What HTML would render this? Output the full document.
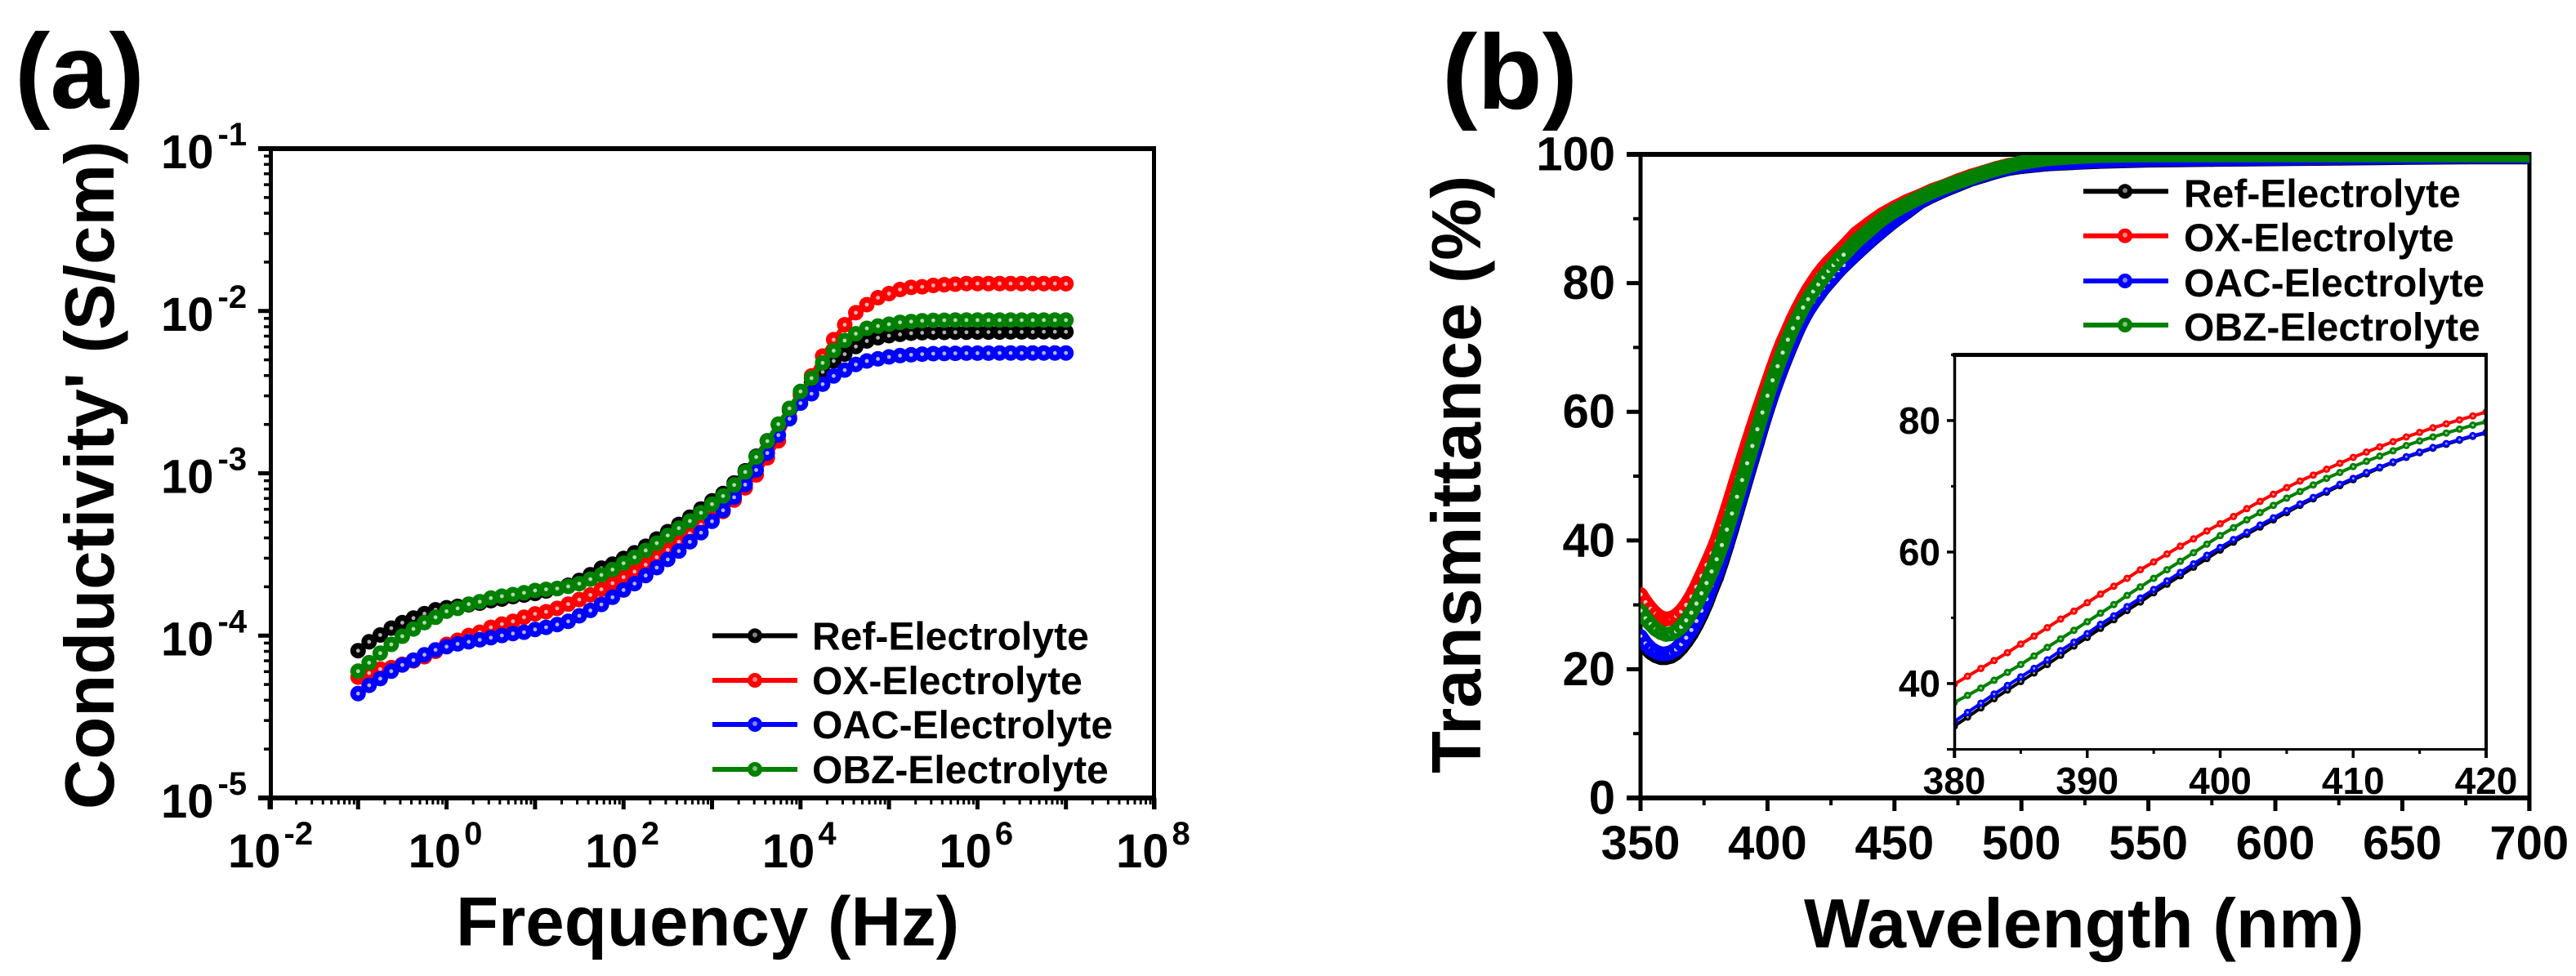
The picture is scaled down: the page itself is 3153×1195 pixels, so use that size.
<!DOCTYPE html>
<html lang="en">
<head>
<meta charset="utf-8">
<title>Conductivity and transmittance of electrolytes</title>
<style>
html,body{margin:0;padding:0;background:#fff;}
svg{display:block;font-family:"Liberation Sans",Arial,sans-serif;font-weight:bold;fill:#000;}
</style>
</head>
<body>
<svg id="fig" xmlns="http://www.w3.org/2000/svg" width="3153" height="1195" viewBox="0 0 3153 1195">
<rect width="3153" height="1195" fill="#fff"/>
<defs>
<clipPath id="clipB"><rect x="2008" y="190" width="1088" height="788"/></clipPath>
<clipPath id="clipI"><rect x="2392" y="434" width="651" height="484"/></clipPath>
</defs>
<text x="18" y="132" font-size="130">(a)</text>
<text x="1765" y="133" font-size="130">(b)</text>
<text x="558" y="1157.5" font-size="85.3">Frequency (Hz)</text>
<text transform="translate(139,991) rotate(-90)" font-size="85">Conductivity' (S/cm)</text>
<text x="2208" y="1160" font-size="85.5">Wavelength (nm)</text>
<text transform="translate(1812,947) rotate(-90)" font-size="85">Transmittance (%)</text>
<g id="layer"></g>
</svg>
<script>
// ---------- Panel (a): conductivity, log10 values, 8 points per decade ----------
const freqExp=[-1,-0.875,-0.75,-0.625,-0.5,-0.375,-0.25,-0.125,0,0.125,0.25,0.375,0.5,0.625,0.75,0.875,1,1.125,1.25,1.375,1.5,1.625,1.75,1.875,2,2.125,2.25,2.375,2.5,2.625,2.75,2.875,3,3.125,3.25,3.375,3.5,3.625,3.75,3.875,4,4.125,4.25,4.375,4.5,4.625,4.75,4.875,5,5.125,5.25,5.375,5.5,5.625,5.75,5.875,6,6.125,6.25,6.375,6.5,6.625,6.75,6.875,7];
const logRef=[-4.093,-4.038,-3.996,-3.954,-3.920,-3.892,-3.865,-3.841,-3.828,-3.820,-3.810,-3.800,-3.785,-3.775,-3.760,-3.750,-3.740,-3.725,-3.710,-3.690,-3.660,-3.625,-3.584,-3.560,-3.525,-3.490,-3.450,-3.405,-3.360,-3.315,-3.270,-3.220,-3.170,-3.125,-3.060,-2.985,-2.895,-2.800,-2.700,-2.610,-2.510,-2.440,-2.375,-2.308,-2.266,-2.219,-2.185,-2.165,-2.152,-2.144,-2.137,-2.134,-2.132,-2.132,-2.131,-2.131,-2.130,-2.130,-2.130,-2.129,-2.129,-2.129,-2.128,-2.128,-2.128];
const logOX=[-4.256,-4.230,-4.206,-4.197,-4.177,-4.155,-4.130,-4.097,-4.054,-4.029,-3.999,-3.979,-3.949,-3.929,-3.912,-3.887,-3.866,-3.853,-3.832,-3.806,-3.778,-3.749,-3.715,-3.677,-3.640,-3.606,-3.563,-3.517,-3.472,-3.422,-3.371,-3.316,-3.280,-3.235,-3.165,-3.090,-3.010,-2.905,-2.800,-2.655,-2.520,-2.400,-2.278,-2.177,-2.085,-2.011,-1.961,-1.918,-1.893,-1.868,-1.855,-1.851,-1.843,-1.838,-1.835,-1.831,-1.831,-1.831,-1.831,-1.831,-1.831,-1.831,-1.831,-1.831,-1.832];
const logOAC=[-4.357,-4.306,-4.265,-4.219,-4.181,-4.151,-4.118,-4.088,-4.068,-4.051,-4.038,-4.026,-4.013,-3.999,-3.987,-3.979,-3.962,-3.949,-3.932,-3.912,-3.878,-3.845,-3.808,-3.764,-3.719,-3.680,-3.630,-3.581,-3.531,-3.479,-3.422,-3.366,-3.296,-3.228,-3.148,-3.070,-2.980,-2.875,-2.765,-2.664,-2.568,-2.510,-2.451,-2.400,-2.364,-2.330,-2.308,-2.295,-2.283,-2.275,-2.270,-2.266,-2.263,-2.262,-2.261,-2.260,-2.260,-2.260,-2.259,-2.259,-2.259,-2.259,-2.259,-2.259,-2.259];
const logOBZ=[-4.219,-4.167,-4.108,-4.054,-4.004,-3.959,-3.920,-3.887,-3.850,-3.832,-3.806,-3.791,-3.769,-3.757,-3.747,-3.736,-3.722,-3.715,-3.710,-3.697,-3.680,-3.652,-3.626,-3.593,-3.554,-3.517,-3.475,-3.430,-3.383,-3.338,-3.294,-3.243,-3.190,-3.140,-3.072,-2.992,-2.900,-2.802,-2.697,-2.600,-2.496,-2.414,-2.320,-2.245,-2.182,-2.140,-2.107,-2.093,-2.082,-2.070,-2.065,-2.060,-2.058,-2.057,-2.056,-2.056,-2.056,-2.056,-2.056,-2.056,-2.056,-2.056,-2.056,-2.056,-2.056];
const aXTickExp=[-2,0,2,4,6,8];
const aYTickExp=[-1,-2,-3,-4,-5];

// ---------- Panel (b): transmittance ----------
const nmMain=[350,352,354,356,358,360,362,364,366,368,370,372,374,376,378,380,382,384,386,388,390,392,394,396,398,400,402,404,406,408,410,412,414,416,418,420,422,424,426,428,430,435,440,445,450,455,460,465,470,475,480,485,490,495,500,510,520,530,550,575,600,625,650,675,700];
const tRef=[24.3,23.4,22.6,22.1,21.8,21.8,22.0,22.5,23.3,24.3,25.5,26.9,28.5,30.3,32.4,34.3,36.7,39.2,41.8,44.5,47.2,49.9,52.6,55.2,57.9,60.4,62.8,65.0,67.1,69.1,71.0,72.8,74.4,75.8,77.0,78.1,79.2,80.1,81.0,81.9,82.7,84.6,86.4,88.1,89.7,91.1,92.6,93.6,94.5,95.3,96.1,96.7,97.3,97.8,98.1,98.5,98.7,98.9,99.1,99.2,99.3,99.4,99.5,99.6,99.6];
const tOX=[31.6,30.4,29.4,28.6,28.0,27.8,27.9,28.3,29.0,30.0,31.3,32.8,34.5,36.2,38.0,39.9,42.3,44.7,47.2,49.8,52.3,54.8,57.3,59.7,62.0,64.3,66.6,68.8,70.8,72.6,74.4,76.0,77.5,78.9,80.1,81.3,82.3,83.2,84.0,84.8,85.6,87.7,89.2,90.6,91.7,92.7,93.5,94.4,95.1,95.9,96.6,97.2,97.8,98.3,98.6,99.2,99.5,99.6,99.7,99.7,99.8,99.8,99.8,99.8,99.8];
const tOAC=[25.1,24.0,23.2,22.7,22.4,22.4,22.6,23.1,23.9,24.9,26.1,27.5,29.1,30.9,33.0,34.9,37.3,39.7,42.3,45.0,47.6,50.3,53.0,55.6,58.2,60.7,63.0,65.2,67.3,69.3,71.2,72.9,74.5,75.9,77.1,78.2,79.3,80.2,81.1,82.0,82.8,84.7,86.5,88.2,89.8,91.2,92.7,93.7,94.6,95.4,96.2,96.8,97.4,97.9,98.2,98.6,98.8,99.0,99.2,99.3,99.4,99.5,99.6,99.7,99.7];
const tOBZ=[29.1,27.9,27.0,26.2,25.7,25.4,25.5,25.9,26.6,27.6,28.8,30.2,31.8,33.4,35.2,37.1,39.3,41.7,44.2,46.8,49.4,52.0,54.7,57.3,59.9,62.5,64.9,67.1,69.2,71.2,73.0,74.6,76.2,77.5,78.7,79.8,80.9,81.9,82.8,83.7,84.4,86.5,88.2,89.9,91.2,92.3,93.3,94.2,95.0,95.7,96.4,97.1,97.7,98.2,98.7,99.3,99.6,99.8,99.9,99.9,99.9,99.9,99.9,99.9,99.9];
const bXTicks=[350,400,450,500,550,600,650,700];
const bYTicks=[0,20,40,60,80,100];

// ---------- Inset of panel (b) ----------
const nmInset=[380,381,382,383,384,385,386,387,388,389,390,391,392,393,394,395,396,397,398,399,400,401,402,403,404,405,406,407,408,409,410,411,412,413,414,415,416,417,418,419,420];
const insetRef=[33.5,34.9,36.3,37.7,39.0,40.3,41.6,42.9,44.3,45.7,47.0,48.4,49.7,51.1,52.4,53.8,55.1,56.4,57.7,59.0,60.3,61.5,62.7,63.8,64.9,66.0,67.1,68.1,69.1,70.1,71.0,71.9,72.8,73.6,74.4,75.1,75.8,76.4,77.0,77.6,78.1];
const insetOX=[39.9,41.1,42.3,43.5,44.7,46.0,47.2,48.5,49.8,51.0,52.3,53.6,54.8,56.0,57.3,58.5,59.7,60.9,62.0,63.2,64.3,65.4,66.6,67.7,68.8,69.8,70.8,71.7,72.6,73.5,74.4,75.2,76.0,76.8,77.5,78.2,78.9,79.5,80.1,80.7,81.3];
const insetOAC=[34.2,35.6,37.0,38.4,39.7,41.0,42.3,43.6,45.0,46.3,47.6,49.0,50.3,51.7,53.0,54.3,55.6,56.9,58.2,59.5,60.7,61.9,63.0,64.1,65.2,66.3,67.3,68.3,69.3,70.3,71.2,72.1,72.9,73.7,74.5,75.2,75.9,76.5,77.1,77.7,78.2];
const insetOBZ=[37.1,38.2,39.3,40.5,41.7,42.9,44.2,45.5,46.8,48.1,49.4,50.7,52.0,53.4,54.7,56.0,57.3,58.6,59.9,61.2,62.5,63.7,64.9,66.0,67.1,68.2,69.2,70.2,71.2,72.1,73.0,73.8,74.6,75.4,76.2,76.9,77.5,78.1,78.7,79.3,79.8];
const insetXTicks=[380,390,400,410,420];
const insetYTicks=[40,60,80];

const seriesNames=['Ref-Electrolyte','OX-Electrolyte','OAC-Electrolyte','OBZ-Electrolyte'];
const seriesKeys=['ref','ox','oac','obz'];
const seriesColors=['#000000','#ff0000','#0000ff','#008000'];

const NS='http://www.w3.org/2000/svg';
const layer=document.getElementById('layer');
function mk(tag,attrs,parent,name,interactable){
  const el=document.createElementNS(NS,tag);
  for(const k in attrs){el.setAttribute(k,attrs[k]);}
  
  
  (parent||layer).appendChild(el);
  return el;
}
function line(x1,y1,x2,y2,w,name,parent,color){
  return mk('line',{x1:x1,y1:y1,x2:x2,y2:y2,stroke:color||'#000','stroke-width':w},parent,name);
}
function powerLabel(x,y,base,exp,parent,name,dx){
  const t=mk('text',{x:x,y:y,'font-size':58},parent,name);
  t.appendChild(document.createTextNode(base));
  const s=document.createElementNS(NS,'tspan');
  s.setAttribute('font-size','40');
  s.setAttribute('dy','-28');
  s.setAttribute('dx',dx);
  s.textContent=exp;
  t.appendChild(s);
}

// axis functions
const ax=v=>330+(v+2)*108.3;
const ay=v=>182+(-1-v)*198.75;
const bx=v=>2008+(v-350)*3.108;
const by=v=>977-v*7.88;
const ix=v=>2392+(v-380)*16.275;
const iy=v=>917.4-(v-30)*8.05;

// ---------- panel a axes ----------
const gA=mk('g',{},layer,'panel-a-axes');
line(316,182,1415,182,6,'panel-a-top-axis',gA);
line(316,977,1415,977,6,'panel-a-bottom-axis',gA);
line(331.5,179,331.5,991,5,'panel-a-left-axis',gA);
line(1412.5,179,1412.5,991,5,'panel-a-right-axis',gA);
aXTickExp.forEach(function(e){
  line(ax(e),977,ax(e),991,5,'panel-a-x-major-tick',gA);
  powerLabel(ax(e)-(e<0?51:47),1062,'10',String(e),gA,'panel-a-x-tick-label',4);
  if(e<8){
    for(let d=0;d<2;d++){
      for(let k=2;k<10;k++){
        const p=ax(e+d+Math.log10(k));
        line(p,977,p,985,3,'panel-a-x-minor-tick',gA);
      }
      if(d===0){line(ax(e+1),977,ax(e+1),991,5,'panel-a-x-mid-tick',gA);}
    }
  }
});
aYTickExp.forEach(function(e){
  line(316,ay(e),332,ay(e),5,'panel-a-y-major-tick',gA);
  powerLabel(197,ay(e)+24,'10',String(e),gA,'panel-a-y-tick-label',5);
  if(e>-5){
    for(let k=2;k<10;k++){
      const p=ay(e-1+Math.log10(k));
      line(323,p,332,p,3.5,'panel-a-y-minor-tick',gA);
    }
  }
});

// series drawing
function drawSeries(parent,xs,ys,sx,sy,color,key,panel,lineW,r,dotR,dotTest,dotOp){
  const g=mk('g',{},parent,panel+'-series-'+key);
  const pts=xs.map(function(x,i){return sx(x).toFixed(1)+','+sy(ys[i]).toFixed(1);}).join(' ');
  mk('polyline',{points:pts,fill:'none',stroke:color,'stroke-width':lineW,'stroke-linejoin':'round','stroke-linecap':'round'},g,panel+'-line-'+key);
  xs.forEach(function(x,i){
    mk('circle',{cx:sx(x).toFixed(1),cy:sy(ys[i]).toFixed(1),r:r,fill:color},g,panel+'-point-'+key);
    if(dotTest(x)){
      mk('circle',{cx:sx(x).toFixed(1),cy:sy(ys[i]).toFixed(1),r:dotR,fill:'#fff','fill-opacity':dotOp},g,panel+'-point-highlight-'+key);
    }
  });
}
const aSeries=[logRef,logOX,logOAC,logOBZ];
aSeries.forEach(function(ys,s){
  drawSeries(layer,freqExp,ys,ax,ay,seriesColors[s],seriesKeys[s],'panel-a',6,9.5,2.4,function(){return true;},0.7);
});

// legend helper
function legend(name,x1,x2,xm,xt,rows,gapBase){
  const g=mk('g',{},layer,name);
  seriesNames.forEach(function(label,s){
    const y=rows[s];
    line(x1,y,x2,y,6,name+'-line-'+seriesKeys[s],g,seriesColors[s]);
    mk('circle',{cx:xm,cy:y,r:9,fill:seriesColors[s]},g,name+'-marker-'+seriesKeys[s]);
    mk('circle',{cx:xm,cy:y-1,r:3,fill:'#fff','fill-opacity':0.5},g,name+'-marker-highlight-'+seriesKeys[s]);
    const t=mk('text',{x:xt,y:y+gapBase,'font-size':48},g,name+'-entry-'+seriesKeys[s]);
    t.textContent=label;
  });
}
legend('panel-a-legend',872,976,924,994,[778.4,833,887,942],17);

// ---------- panel b axes ----------
const gB=mk('g',{},layer,'panel-b-axes');
line(1991,189,3098,189,6,'panel-b-top-axis',gB);
line(1991,977,3098,977,6,'panel-b-bottom-axis',gB);
line(2008,186,2008,993,5,'panel-b-left-axis',gB);
line(3096,186,3096,993,5,'panel-b-right-axis',gB);
bXTicks.forEach(function(v,i){
  line(bx(v),977,bx(v),993,5,'panel-b-x-major-tick',gB);
  const t=mk('text',{x:bx(v),y:1052,'font-size':58,'text-anchor':'middle'},gB,'panel-b-x-tick-label');
  t.textContent=String(v);
  if(i<bXTicks.length-1){
    const m=bx(v+25);
    line(m,977,m,986,4,'panel-b-x-minor-tick',gB);
  }
});
bYTicks.forEach(function(v,i){
  line(1991,by(v),2008,by(v),5,'panel-b-y-major-tick',gB);
  const t=mk('text',{x:1977,y:by(v)+19.5,'font-size':58,'text-anchor':'end'},gB,'panel-b-y-tick-label');
  t.textContent=String(v);
  if(i<bYTicks.length-1){
    line(1999,by(v+10),2008,by(v+10),4,'panel-b-y-minor-tick',gB);
  }
});
const gBData=mk('g',{'clip-path':'url(#clipB)'},layer,'panel-b-data');
const bSeries=[tRef,tOX,tOAC,tOBZ];
bSeries.forEach(function(ys,s){
  drawSeries(gBData,nmMain,ys,bx,by,seriesColors[s],seriesKeys[s],'panel-b',18,9,2.6,function(x){return x<432;},0.78);
});
legend('panel-b-legend',2550,2654,2601,2673,[234.3,288.7,344,398],19);

// ---------- inset ----------
const gI=mk('g',{},layer,'inset');
mk('rect',{x:2392,y:434,width:651,height:484,fill:'#fff'},gI,'inset-background');
const gIData=mk('g',{'clip-path':'url(#clipI)'},gI,'inset-data');
const iSeries=[insetRef,insetOX,insetOAC,insetOBZ];
iSeries.forEach(function(ys,s){
  drawSeries(gIData,nmInset,ys,ix,iy,seriesColors[s],seriesKeys[s],'inset',4,4.5,1.5,function(){return true;},0.6);
});
line(2390,434.5,3045,434.5,5,'inset-top-axis',gI);
line(2390,917.5,3045,917.5,3,'inset-bottom-axis',gI);
line(2392.5,432,2392.5,928,3.5,'inset-left-axis',gI);
line(3043,432,3043,928,4,'inset-right-axis',gI);
insetXTicks.forEach(function(v,i){
  line(ix(v),917,ix(v),928,3.5,'inset-x-major-tick',gI);
  const t=mk('text',{x:ix(v),y:972,'font-size':46,'text-anchor':'middle'},gI,'inset-x-tick-label');
  t.textContent=String(v);
  if(i<insetXTicks.length-1){
    line(ix(v+5),917,ix(v+5),923,3,'inset-x-minor-tick',gI);
  }
});
insetYTicks.forEach(function(v){
  line(2383,iy(v),2392,iy(v),3.5,'inset-y-major-tick',gI);
  const t=mk('text',{x:2375,y:iy(v)+16,'font-size':46,'text-anchor':'end'},gI,'inset-y-tick-label');
  t.textContent=String(v);
  line(2388,iy(v+10),2392,iy(v+10),3,'inset-y-minor-tick',gI);
});
line(2383,917.5,2392,917.5,3,'inset-y-bottom-tick',gI);
</script>
</body>
</html>
